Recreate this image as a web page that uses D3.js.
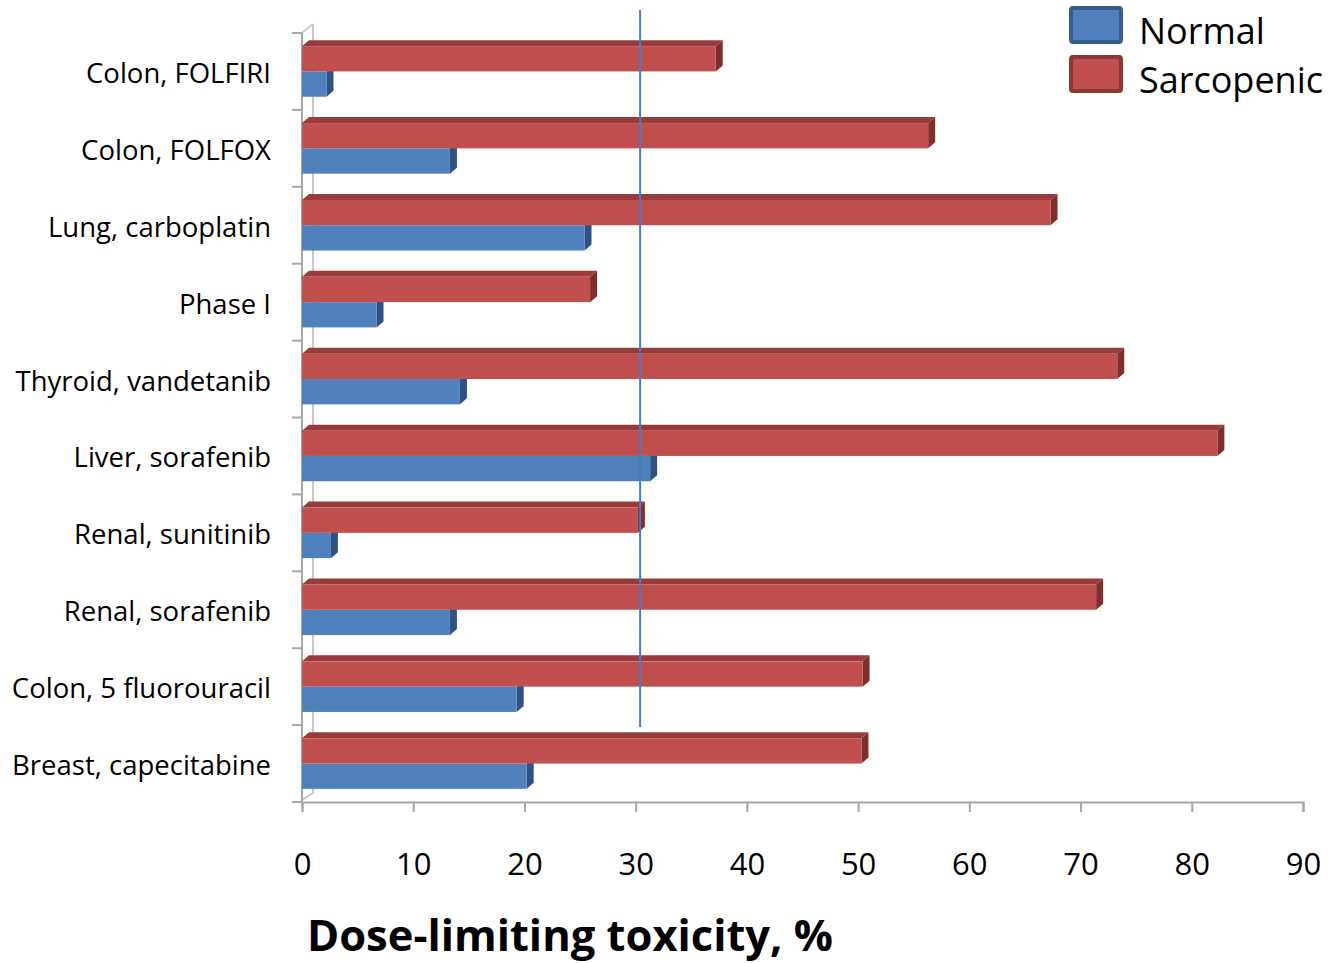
<!DOCTYPE html>
<html>
<head>
<meta charset="utf-8">
<script src="https://cdn.jsdelivr.net/npm/d3@7"></script>
<style>
  html, body { margin: 0; padding: 0; background: #fff; }
  svg { display: block; }
  text { font-family: "Open Sans", "Noto Sans", sans-serif; fill: #000; }
</style>
</head>
<body>
<svg id="chart" width="1328" height="963"></svg>
<script>
// Toxicity rates by tumour type and treatment
const categories = [
  "Colon, FOLFIRI",
  "Colon, FOLFOX",
  "Lung, carboplatin",
  "Phase I",
  "Thyroid, vandetanib",
  "Liver, sorafenib",
  "Renal, sunitinib",
  "Renal, sorafenib",
  "Colon, 5 fluorouracil",
  "Breast, capecitabine"
];
const seriesNames = ["Sarcopenic", "Normal"];
const sarcopenic = [37.2, 56.3, 67.3, 25.9, 73.3, 82.3, 30.2, 71.4, 50.4, 50.3];
const normal     = [2.2, 13.3, 25.4, 6.7, 14.2, 31.3, 2.6, 13.3, 19.3, 20.2];
const xTicks = [0, 10, 20, 30, 40, 50, 60, 70, 80, 90];
const referenceValue = 30.4;
const xTitle = "Dose-limiting toxicity, %";

const colors = {
  Normal:     { front: "#4F81BD", side: "#2E5282", top: "#3F6CA3", legendStroke: "#385D8A" },
  Sarcopenic: { front: "#C0504D", side: "#7E2F2D", top: "#973C3A", legendStroke: "#8C3836" }
};

const svg = d3.select("#chart");

const x = d3.scaleLinear().domain([0, 90]).range([302, 1303]);
const y = d3.scaleBand().domain(categories).range([33, 802]).padding(0);
const ySub = d3.scaleBand().domain(seriesNames)
  .range([0, y.bandwidth()]).paddingInner(0).paddingOuter(0.52);

// depth of the 3-D bars and of the back wall
const dx = 7, dy = -6;
const wallDx = 11, wallDy = -9;

const axisColor = "#A6A6A6";

// back wall edges
const g = svg.append("g");
const yTop = y.range()[0], yBot = y.range()[1];
g.append("line").attr("x1", x(0) + wallDx).attr("x2", x(0) + wallDx)
  .attr("y1", yTop + wallDy).attr("y2", yBot + wallDy)
  .attr("stroke", "#C8C8C8").attr("stroke-width", 2);
g.append("line").attr("x1", x(0)).attr("x2", x(0) + wallDx)
  .attr("y1", yTop).attr("y2", yTop + wallDy)
  .attr("stroke", "#C8C8C8").attr("stroke-width", 2);
g.append("line").attr("x1", x(0)).attr("x2", x(0) + wallDx)
  .attr("y1", yBot - 2).attr("y2", yBot + wallDy)
  .attr("stroke", "#C8C8C8").attr("stroke-width", 2);

// left axis with ticks on the category boundaries
const boundaries = categories.map(c => y(c)).concat([yBot]);
g.append("line").attr("x1", x(0)).attr("x2", x(0))
  .attr("y1", yTop).attr("y2", yBot)
  .attr("stroke", axisColor).attr("stroke-width", 2);
g.selectAll(".ytick").data(boundaries).join("line")
  .attr("x1", x(0) - 10).attr("x2", x(0))
  .attr("y1", d => d).attr("y2", d => d)
  .attr("stroke", axisColor).attr("stroke-width", 2);

// category labels
g.selectAll(".ylabel").data(categories).join("text")
  .attr("x", 271).attr("y", d => y(d) + y.bandwidth() / 2 + 1)
  .attr("text-anchor", "end").attr("dominant-baseline", "central")
  .style("font-size", "27.5px")
  .text(d => d);

// bottom axis
const xAxis = d3.axisBottom(x).tickValues(xTicks).tickSize(10).tickPadding(0)
  .tickFormat(d3.format("d"));
const ax = svg.append("g").attr("transform", `translate(0,${yBot})`).call(xAxis);
ax.select(".domain").attr("stroke", axisColor).attr("stroke-width", 2);
ax.selectAll(".tick line").attr("stroke", axisColor).attr("stroke-width", 2);
ax.selectAll(".tick text")
  .attr("y", 73).attr("dy", 0)
  .style("font-size", "31px")
  .style("font-family", "'Open Sans', sans-serif").attr("fill", "#000");

// 3-D bar helpers
function frontRect(sel, v, yy, h) {
  return sel.append("rect").attr("x", x(0)).attr("y", yy)
    .attr("width", x(v) - x(0)).attr("height", h);
}
function topFace(x0, x1, yy) {
  return `M${x0},${yy} L${x0 + dx},${yy + dy} L${x1 + dx},${yy + dy} L${x1},${yy} Z`;
}
function sideFace(x1, yy, h) {
  return `M${x1},${yy} L${x1 + dx},${yy + dy} L${x1 + dx},${yy + h + dy} L${x1},${yy + h} Z`;
}

const bars = svg.append("g");
categories.forEach((cat, i) => {
  const h = ySub.bandwidth();
  const cg = bars.append("g");
  // Normal bar (lower) is drawn first; the Sarcopenic bar sits on top of it
  [["Normal", normal[i]], ["Sarcopenic", sarcopenic[i]]].forEach(([name, v]) => {
    const yy = y(cat) + ySub(name);
    const c = colors[name];
    if (name === "Sarcopenic") {
      cg.append("path").attr("d", topFace(x(0), x(v), yy)).attr("fill", c.top);
    }
    cg.append("path").attr("d", sideFace(x(v), yy, h)).attr("fill", c.side);
    frontRect(cg, v, yy, h).attr("fill", c.front);
  });
});

// reference line
svg.append("line")
  .attr("x1", x(referenceValue)).attr("x2", x(referenceValue))
  .attr("y1", 10).attr("y2", y(categories[categories.length - 1]) + 2)
  .attr("stroke", "#4A7CC4").attr("stroke-width", 2);

// axis title
svg.append("text")
  .attr("x", 570).attr("y", 951)
  .attr("text-anchor", "middle")
  .style("font-size", "43.5px").style("font-weight", "bold")
  .text(xTitle);

// legend
const legendItems = [["Normal", 8, 44], ["Sarcopenic", 57, 93]];
const lg = svg.append("g");
legendItems.forEach(([name, top, baseline]) => {
  lg.append("rect").attr("x", 1071).attr("y", top).attr("width", 50).attr("height", 34)
    .attr("fill", colors[name].front).attr("stroke", colors[name].legendStroke)
    .attr("stroke-width", 4).attr("rx", 2);
  lg.append("text").attr("x", 1139).attr("y", baseline)
    .style("font-size", "36px").text(name);
});
</script>
</body>
</html>
